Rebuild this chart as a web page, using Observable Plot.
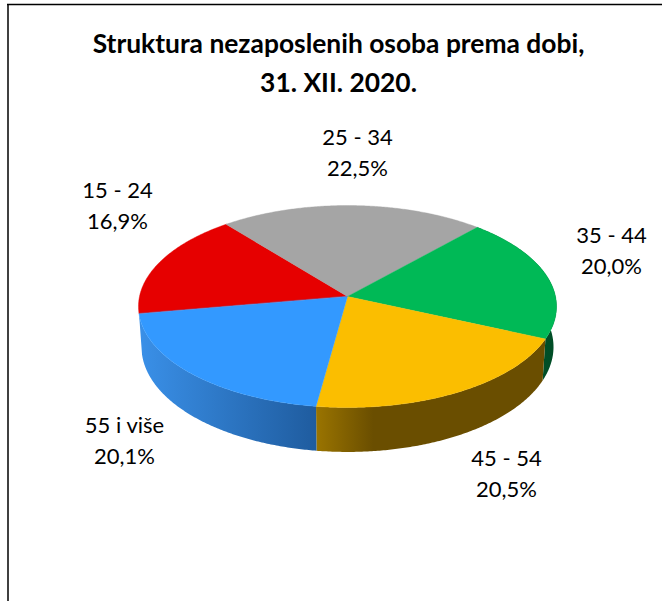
<!DOCTYPE html>
<html>
<head>
<meta charset="utf-8">
<script src="https://cdn.jsdelivr.net/npm/d3@7"></script>
<script src="https://cdn.jsdelivr.net/npm/@observablehq/plot@0.6"></script>
<style>html,body{margin:0;padding:0;background:#fff}svg{display:block}</style>
</head>
<body>
<div id="chart"></div>
<script>
const categories = ["15 - 24", "25 - 34", "35 - 44", "45 - 54", "55 i više"];
const shares = [16.9, 22.5, 20.0, 20.5, 20.1];
const shareLabels = ["16,9%", "22,5%", "20,0%", "20,5%", "20,1%"];
const topColors = ["#e60000", "#a5a5a5", "#00b956", "#fbbe00", "#3399ff"];
const wallStart = [null, null, "#00562b", "#9a7400", "#3a90e8"];
const wallEnd = [null, null, "#004d26", "#6a4e00", "#1f5c9f"];
const wallRamp = [null, null, 1, 0.25, 1];
const titleLines = ["Struktura nezaposlenih osoba prema dobi,", "31. XII. 2020."];

// layout
const W = 662, H = 601;
const C = {x: 347, y: 296, a: 208, b: 100, p: 0.099};
const B = {x: 347, y: 336, a: 205, b: 104, p: 0.099};
const firstAngle = 260.2;
const labelX = [117, 357, 611, 506, 124];
const labelY = [203, 150, 248, 471, 438];

const rad = d => d * Math.PI / 180;
const proj = (g, deg) => {
  const u = Math.sin(rad(deg)), v = -Math.cos(rad(deg)), w = 1 - g.p * v;
  return {x: g.x + g.a * u / w, y: g.y + g.b * v / w};
};
const arc = (g, a0, a1) => {
  const n = Math.ceil(Math.abs(a1 - a0) * 2);
  return d3.range(n + 1).map(j => proj(g, a0 + (a1 - a0) * j / n));
};

let acc = firstAngle;
const slices = categories.map((c, i) => {
  const a0 = acc, a1 = acc + shares[i] * 3.6;
  acc = a1;
  return {i, a0, a1};
});

const topPoly = slices.flatMap(s =>
  [{x: C.x, y: C.y}, ...arc(C, s.a0, s.a1)].map(p => ({k: s.i, c: topColors[s.i], ...p})));

const walls = slices.filter(s => wallStart[s.i]).map(s => ({
  ...s,
  pts: [...arc(C, s.a0, s.a1), ...arc(B, s.a1, s.a0)]
}));

const gradientDefs = () => {
  const defs = d3.create("svg:defs");
  for (const s of walls) {
    const xs = arc(C, s.a0, s.a1).map(p => p.x);
    const g = defs.append("linearGradient")
      .attr("id", "wall" + s.i)
      .attr("gradientUnits", "userSpaceOnUse")
      .attr("x1", d3.min(xs)).attr("x2", d3.max(xs)).attr("y1", 0).attr("y2", 0);
    g.append("stop").attr("offset", 0).attr("stop-color", wallStart[s.i]);
    g.append("stop").attr("offset", wallRamp[s.i]).attr("stop-color", wallEnd[s.i]);
  }
  return defs.node();
};

const labelRows = categories.map((c, i) => ({text: c + "\n" + shareLabels[i], x: labelX[i], y: labelY[i]}));

const font = "Lato, Carlito, Calibri, sans-serif";
const chart = Plot.plot({
  width: W, height: H,
  margin: 0,
  style: {background: "#fff", fontFamily: font},
  x: {domain: [0, W], range: [0, W], axis: null},
  y: {domain: [0, H], range: [0, H], axis: null},
  color: {type: "identity"},
  marks: [
    gradientDefs,
    Plot.ruleX([7.5], {y1: 4, y2: H, stroke: "#000", strokeWidth: 1.5}),
    Plot.ruleY([4], {x1: 7, x2: W, stroke: "#000", strokeWidth: 1.5}),
    ...walls.map(s => Plot.line(s.pts, {x: "x", y: "y", fill: `url(#wall${s.i})`, stroke: "none", curve: "linear-closed"})),
    Plot.line(topPoly, {x: "x", y: "y", z: "k", fill: "c", stroke: "c", strokeWidth: 0.4, curve: "linear-closed"}),
    Plot.text(labelRows, {x: "x", y: "y", text: "text", fontSize: 22, lineHeight: 1.4, fill: "#000", textAnchor: "middle", fontFamily: font}),
    Plot.text(titleLines.map((t, i) => ({t, i})), {x: () => 338, y: d => 44 + d.i * 39, text: "t", fontSize: 26.4, fontWeight: 700, fill: "#000", textAnchor: "middle", fontFamily: font})
  ]
});
document.getElementById("chart").appendChild(chart);
</script>
</body>
</html>
